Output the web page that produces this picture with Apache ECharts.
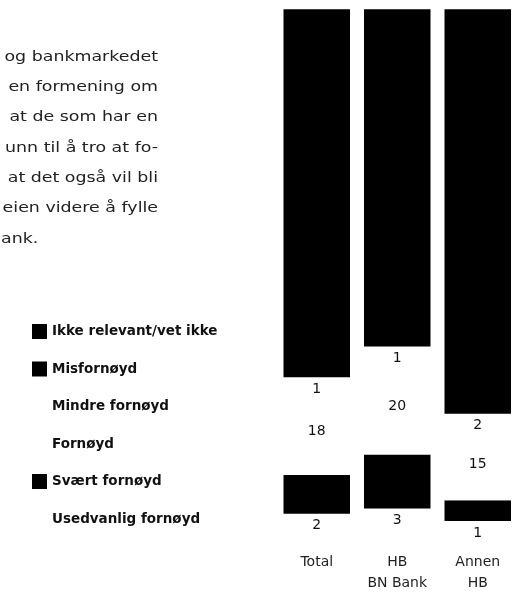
<!DOCTYPE html>
<html>
<head>
<meta charset="utf-8">
<script src="https://cdn.jsdelivr.net/npm/echarts@6/dist/echarts.min.js"></script>
<style>
html,body{margin:0;padding:0;background:#fff;}
#c{width:518px;height:594px;}
</style>
</head>
<body>
<div id="c"></div>
<script>
// ---- data ----
const categories = ['Total', 'HB\nBN Bank', 'Annen\nHB'];
const usedvanligFornoyd = [2, 3, 0.6];
const svaertFornoyd = [7.5, 10.5, 4];
const fornoyd = [18, 20, 15];
const mindreFornoyd = [1, 1, 1.8];
const misfornoyd = [71.5, 65.5, 78.6];
const ikkeRelevant = [0, 0, 0];
const legendOrder = ['Ikke relevant/vet ikke', 'Misfornøyd', 'Mindre fornøyd', 'Fornøyd', 'Svært fornøyd', 'Usedvanlig fornøyd'];
const paragraphLines = ['og bankmarkedet', 'en formening om', 'at de som har en', 'unn til å tro at fo-', 'at det også vil bli', 'eien videre å fylle'];
const paragraphLast = 'ank.';

const FONT = '"DejaVu Sans", sans-serif';
const chart = echarts.init(document.getElementById('c'), null, {renderer: 'canvas'});

function lbl(pos, offset) {
  return {
    show: true, position: pos, offset: offset || [0, 0], color: '#111', fontSize: 14, fontFamily: FONT,
    formatter: p => String(Math.round(p.value))
  };
}
function s(name, data, color, label) {
  return {
    name, type: 'bar', stack: 'a', data, barWidth: 66.5,
    itemStyle: {color},
    label: label || {show: false},
    emphasis: {disabled: true},
    silent: true
  };
}

const graphics = [];
const lineY0 = 57, lineStep = 30.3, SX = 1.2;
paragraphLines.forEach((t, i) => {
  graphics.push({
    type: 'text', x: 158, y: lineY0 + i * lineStep, scaleX: SX,
    style: {text: t, x: 0, y: 0, textAlign: 'right', textVerticalAlign: 'middle',
      font: '14.5px ' + FONT, fill: '#222'}
  });
});
graphics.push({
  type: 'text', x: 1, y: lineY0 + paragraphLines.length * lineStep, scaleX: SX,
  style: {text: paragraphLast, x: 0, y: 0, textAlign: 'left', textVerticalAlign: 'middle',
    font: '14.5px ' + FONT, fill: '#222'}
});

chart.setOption({
  animation: false,
  backgroundColor: '#fff',
  grid: {left: 276.5, width: 255, top: 9.3, bottom: 67.5, containLabel: false},
  xAxis: {
    type: 'category', data: categories,
    axisLine: {show: false}, axisTick: {show: false},
    axisLabel: {color: '#222', fontSize: 14, fontFamily: FONT, lineHeight: 21, margin: 28, interval: 0}
  },
  yAxis: {type: 'value', min: 0, max: 100, show: false},
  legend: {
    orient: 'vertical', left: 27, top: 319,
    itemWidth: 15, itemHeight: 15, itemGap: 22.5,
    icon: 'rect', selectedMode: false,
    data: legendOrder,
    textStyle: {color: '#111', fontSize: 13.5, fontWeight: 'bold', fontFamily: FONT}
  },
  graphic: graphics,
  series: [
    s('Usedvanlig fornøyd', usedvanligFornoyd, '#ffffff', lbl('insideTop')),
    s('Svært fornøyd', svaertFornoyd, '#000000'),
    s('Fornøyd', fornoyd, '#ffffff', lbl('inside', [0, 3])),
    s('Mindre fornøyd', mindreFornoyd, '#ffffff', lbl('insideTop')),
    s('Misfornøyd', misfornoyd, '#000000'),
    s('Ikke relevant/vet ikke', ikkeRelevant, '#000000')
  ]
});
</script>
</body>
</html>
